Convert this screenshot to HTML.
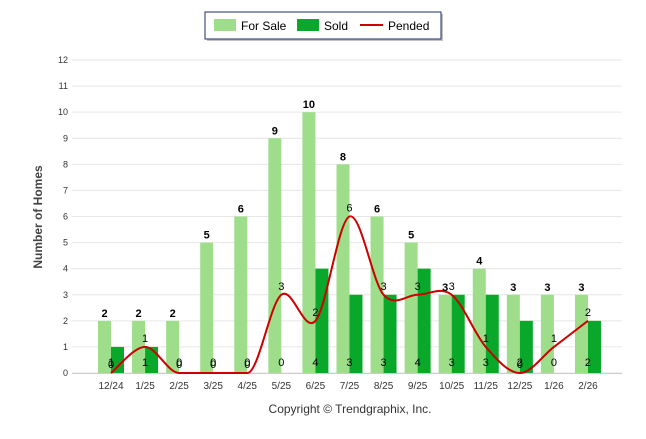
<!DOCTYPE html>
<html><head><meta charset="utf-8"><style>
body{margin:0;background:#fff;font-family:"Liberation Sans",sans-serif}
#wrap{position:relative;width:646px;height:434px}
svg text{font-family:"Liberation Sans",sans-serif}
</style></head><body>
<div id="wrap">
<svg id="c" width="646" height="434">
<g>
<rect x="207" y="14" width="236" height="27" fill="#888" opacity="0.5"/>
<rect x="205" y="12" width="236" height="27" fill="#fff" stroke="#1a2d6b" stroke-width="1"/>
<rect x="214" y="19" width="22" height="12" fill="#9ede8a"/>
<text x="241" y="30" font-size="12" fill="#000">For Sale</text>
<rect x="297" y="19" width="22" height="12" fill="#0aa82a"/>
<text x="324" y="30" font-size="12" fill="#000">Sold</text>
<line x1="360" y1="25" x2="383" y2="25" stroke="#cc0000" stroke-width="2"/>
<text x="388" y="30" font-size="12" fill="#000">Pended</text>
</g>
<text x="42" y="217" font-size="12" font-weight="bold" fill="#444" text-anchor="middle" transform="rotate(-90 42 217)">Number of Homes</text>
<text x="350" y="413" font-size="12" fill="#333" text-anchor="middle">Copyright © Trendgraphix, Inc.</text>
</svg></div>
<script>
const categories=["12/24","1/25","2/25","3/25","4/25","5/25","6/25","7/25","8/25","9/25","10/25","11/25","12/25","1/26","2/26"];
const forSale=[2,2,2,5,6,9,10,8,6,5,3,4,3,3,3];
const sold=[1,1,0,0,0,0,4,3,3,4,3,3,2,0,2];
const pended=[0,1,0,0,0,3,2,6,3,3,3,1,0,1,2];
const yTicks=[0,1,2,3,4,5,6,7,8,9,10,11,12];
const NS="http://www.w3.org/2000/svg",svg=document.getElementById('c');
const y0=373,y1=60,ymax=12,x0=111,dx=34.07;
const Y=v=>y0-(v/ymax)*(y0-y1), X=i=>x0+i*dx;
function mk(t,a,p){const e=document.createElementNS(NS,t);for(const k in a)e.setAttribute(k,a[k]);(p||svg).appendChild(e);return e;}
yTicks.forEach(v=>{
 const g=mk('line',{x1:72,x2:622,y1:Y(v),y2:Y(v),stroke:'#e6e6e6','stroke-width':1});
 
 
 const t=mk('text',{x:68,y:Y(v)+3,'font-size':9,fill:'#333','text-anchor':'end'});t.textContent=v;
 
 
});
mk('line',{x1:72,x2:622,y1:y0+0.5,y2:y0+0.5,stroke:'#ccc'});
categories.forEach((c,i)=>{
 const t=mk('text',{x:X(i),y:389,'font-size':10,fill:'#333','text-anchor':'middle'});t.textContent=c;
 
 
 const b=mk('rect',{x:X(i)-13,y:Y(forSale[i]),width:13,height:y0-Y(forSale[i]),fill:'#9ede8a'});
 
 
 const s=mk('rect',{x:X(i),y:Y(sold[i]),width:13,height:y0-Y(sold[i]),fill:'#0aa82a'});
 
 
});
// pended spline (catmull-rom), flat where neighbours equal
const P=pended.map((v,i)=>[X(i),Y(v)]);
let d='M'+P[0][0]+','+P[0][1];
for(let i=0;i<P.length-1;i++){const p0=P[i-1]||P[i],p1=P[i],p2=P[i+1],p3=P[i+2]||P[i+1];
 let c1y=p1[1]+(p2[1]-p0[1])/6, c2y=p2[1]-(p3[1]-p1[1])/6;
 if(pended[i]===pended[i+1]&&pended[i]===0){c1y=p1[1];c2y=p2[1];}
 if(i>0&&pended[i]===0&&pended[i-1]===0)c1y=p1[1];
 if(i+2<P.length&&pended[i+1]===0&&pended[i+2]===0)c2y=p2[1];
 d+=` C${p1[0]+(p2[0]-p0[0])/6},${c1y} ${p2[0]-(p3[0]-p1[0])/6},${c2y} ${p2[0]},${p2[1]}`;}
const ln=mk('path',{d:d,fill:'none',stroke:'#cc0000','stroke-width':2});


categories.forEach((c,i)=>{
 const a=mk('text',{x:X(i)-6.5,y:Y(forSale[i])-4,'font-size':11,'font-weight':'bold',fill:'#000','text-anchor':'middle'});a.textContent=forSale[i];
 
 
 const b=mk('text',{x:X(i),y:366,'font-size':11,fill:'#000','text-anchor':'middle'});b.textContent=sold[i];
 
 
 const p=mk('text',{x:X(i),y:Y(pended[i])-5,'font-size':11,fill:'#000','text-anchor':'middle'});p.textContent=pended[i];
 
 
});
</script></body></html>
